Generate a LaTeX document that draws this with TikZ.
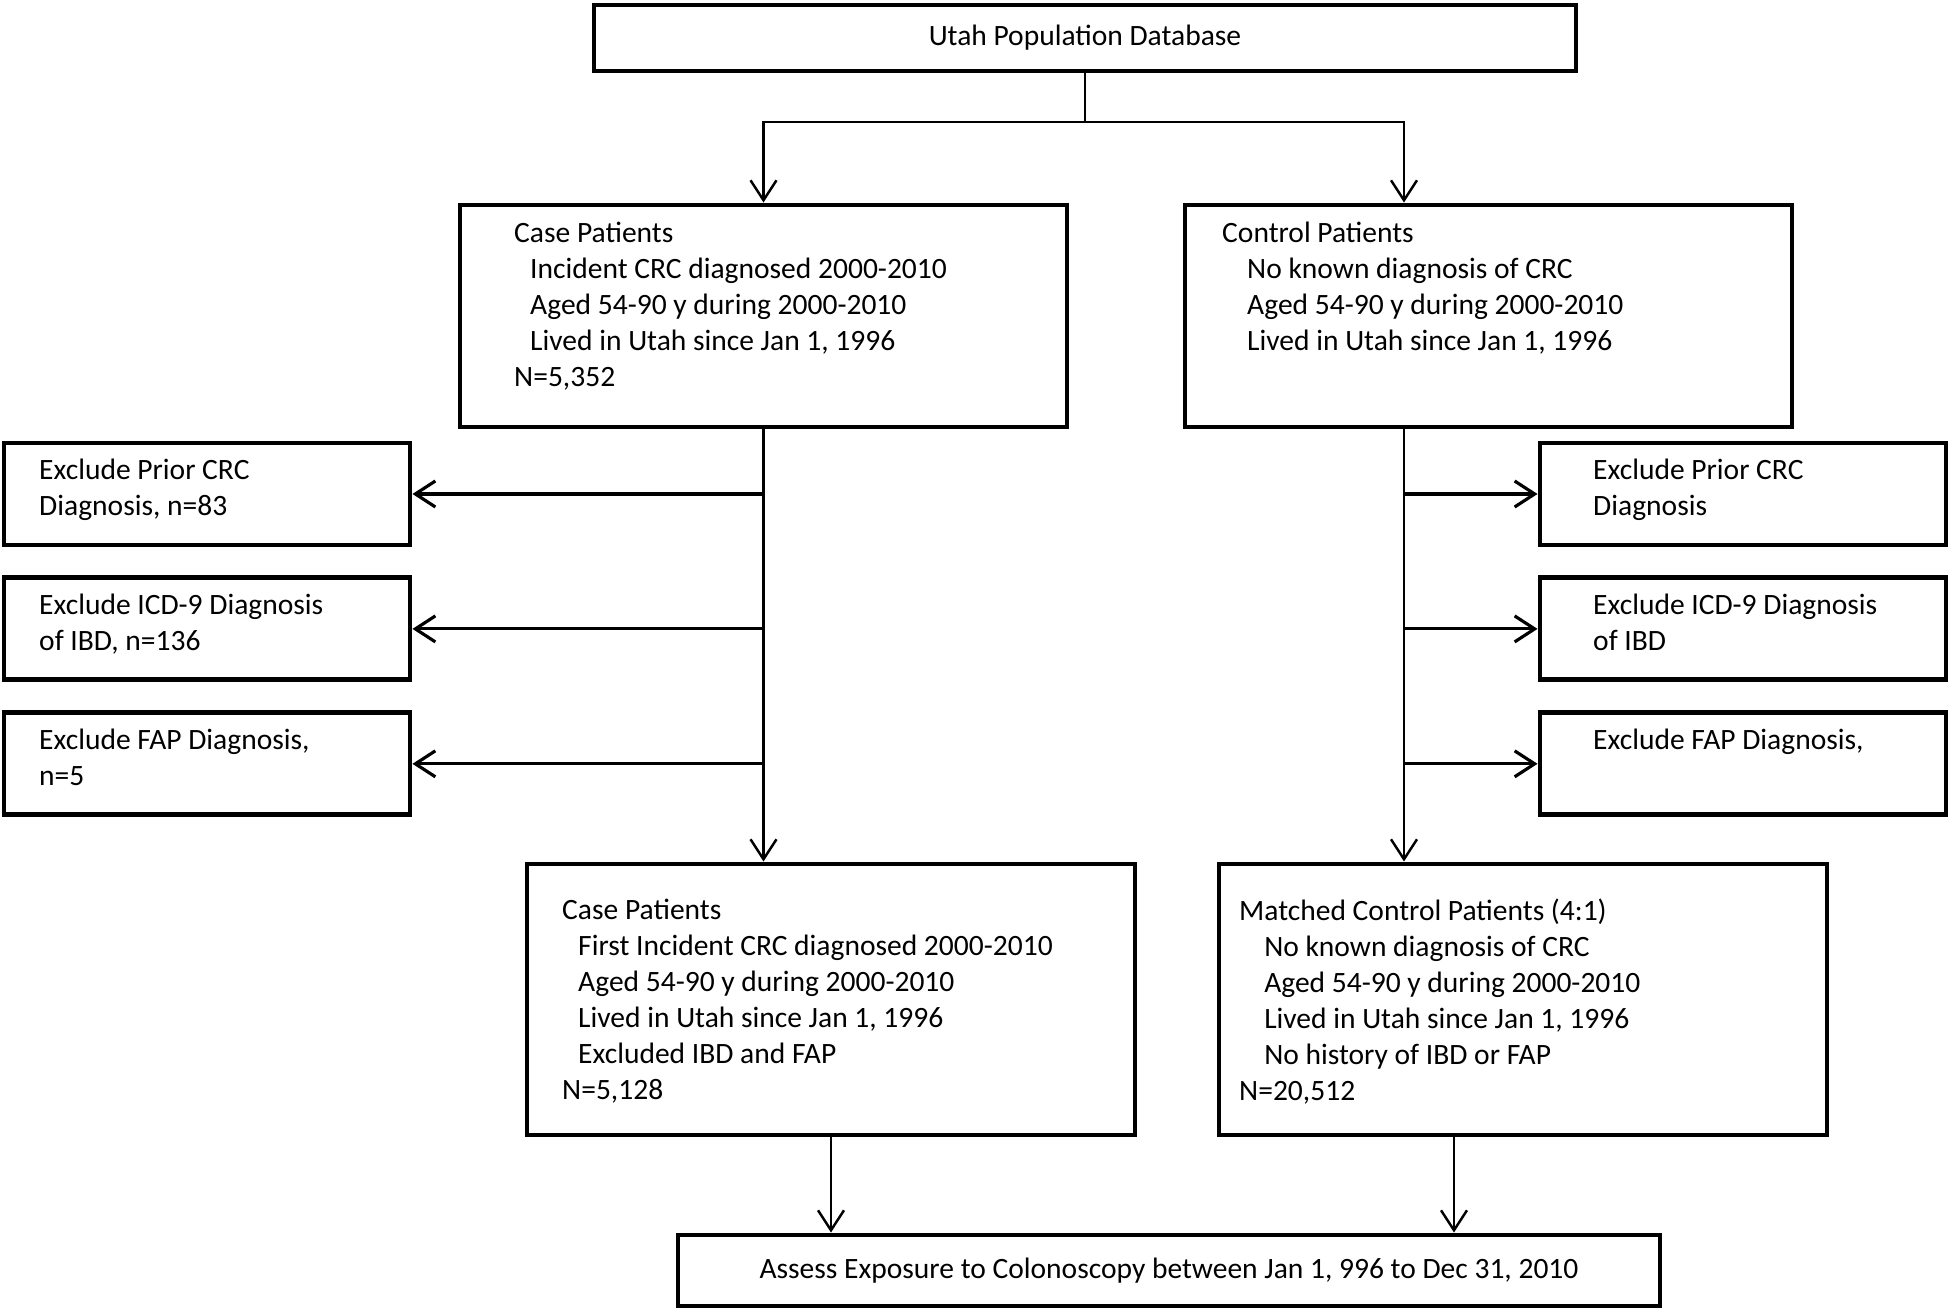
\documentclass[tikz,border=0pt]{standalone}
\usepackage{fontspec}
\setmainfont{Carlito}
\usetikzlibrary{arrows.meta,positioning}
\tikzset{
	box/.style={draw, line width=1.4pt, inner sep=0pt, font=\fontsize{8.4}{10.24}\selectfont},
	bigbox/.style={box, minimum width=6.07cm, minimum height=2.22cm},
	resbox/.style={box, minimum width=6.08cm, minimum height=2.71cm},
	exbox/.style={box, minimum width=4.06cm, minimum height=1.02cm},
	txt/.style={anchor=north west, align=left, inner sep=0pt, font=\fontsize{8.4}{10.24}\selectfont},
	arr/.style={line width=0.7pt, -{Straight Barb[length=2mm,width=2.6mm]}},
}
\begin{document}
\begin{tikzpicture}
		\useasboundingbox (0,0) rectangle (19.5,-13.09);
		% boxes
		\node[box, minimum width=9.82cm, minimum height=0.66cm] (db) at (10.85,-0.38) {Utah Population Database};
		\node[bigbox, label={[txt,xshift=5.6mm,yshift=-1.9mm]north west:{Case Patients\\\hspace*{1.6mm}Incident CRC diagnosed 2000-2010\\\hspace*{1.6mm}Aged 54-90 y during 2000-2010\\\hspace*{1.6mm}Lived in Utah since Jan 1, 1996\\N=5,352}}] (case1) at (7.635,-3.16) {};
		\node[bigbox, label={[txt,xshift=3.9mm,yshift=-1.9mm]north west:{Control Patients\\\hspace*{2.5mm}No known diagnosis of CRC\\\hspace*{2.5mm}Aged 54-90 y during 2000-2010\\\hspace*{2.5mm}Lived in Utah since Jan 1, 1996}}] (ctrl1) at (14.885,-3.16) {};
		\node[exbox, label={[txt,xshift=3.7mm,yshift=-1.8mm]north west:{Exclude Prior CRC\\Diagnosis, n=83}}] (exL1) at (2.07,-4.94) {};
		\node[exbox, below=0.28cm of exL1, label={[txt,xshift=3.7mm,yshift=-1.8mm]north west:{Exclude ICD-9 Diagnosis\\of IBD, n=136}}] (exL2) {};
		\node[exbox, below=0.28cm of exL2, label={[txt,xshift=3.7mm,yshift=-1.8mm]north west:{Exclude FAP Diagnosis,\\n=5}}] (exL3) {};
		\node[exbox, label={[txt,xshift=5.5mm,yshift=-1.8mm]north west:{Exclude Prior CRC\\Diagnosis}}] (exR1) at (17.43,-4.94) {};
		\node[exbox, below=0.28cm of exR1, label={[txt,xshift=5.5mm,yshift=-1.8mm]north west:{Exclude ICD-9 Diagnosis\\of IBD}}] (exR2) {};
		\node[exbox, below=0.28cm of exR2, label={[txt,xshift=5.5mm,yshift=-1.8mm]north west:{Exclude FAP Diagnosis,}}] (exR3) {};
		\node[resbox, label={[txt,xshift=3.7mm,yshift=-3.7mm]north west:{Case Patients\\\hspace*{1.6mm}First Incident CRC diagnosed 2000-2010\\\hspace*{1.6mm}Aged 54-90 y during 2000-2010\\\hspace*{1.6mm}Lived in Utah since Jan 1, 1996\\\hspace*{1.6mm}Excluded IBD and FAP\\N=5,128}}] (case2) at (8.31,-9.995) {};
		\node[resbox, label={[txt,xshift=2.2mm,yshift=-3.7mm]north west:{Matched Control Patients (4:1)\\\hspace*{2.5mm}No known diagnosis of CRC\\\hspace*{2.5mm}Aged 54-90 y during 2000-2010\\\hspace*{2.5mm}Lived in Utah since Jan 1, 1996\\\hspace*{2.5mm}No history of IBD or FAP\\N=20,512}}] (ctrl2) at (15.23,-9.995) {};
		\node[box, minimum width=9.82cm, minimum height=0.71cm] (assess) at (11.69,-12.705) {Assess Exposure to Colonoscopy between Jan 1, 996 to Dec 31, 2010};
		% connectors
		\coordinate (split) at (10.85,-1.22);
		\coordinate (rsplit) at (14.04,-1.22);
		\coordinate (rdown) at (14.54,-11.35);
		\draw[line width=0.7pt] (db.south) -- (split);
		\draw[arr] (split) -| (case1.north);
		\draw[arr] (split) -| (ctrl1.north -| rsplit);
		\draw[arr] (case1.south) -- (case1.south |- case2.north);
		\draw[arr] (ctrl1.south -| rsplit) -- (ctrl2.north -| rsplit);
		\foreach \e in {exL1,exL2,exL3}
			\draw[arr, line width=0.9pt] (\e.east -| case1.south) -- (\e.east);
		\foreach \e in {exR1,exR2,exR3}
			\draw[arr, line width=0.9pt] (\e.west -| rsplit) -- (\e.west);
		\draw[arr] (case2.south) -- (case2.south |- assess.north);
		\draw[arr] (ctrl2.south -| rdown) -- (assess.north -| rdown);
	\end{tikzpicture}
\end{document}
